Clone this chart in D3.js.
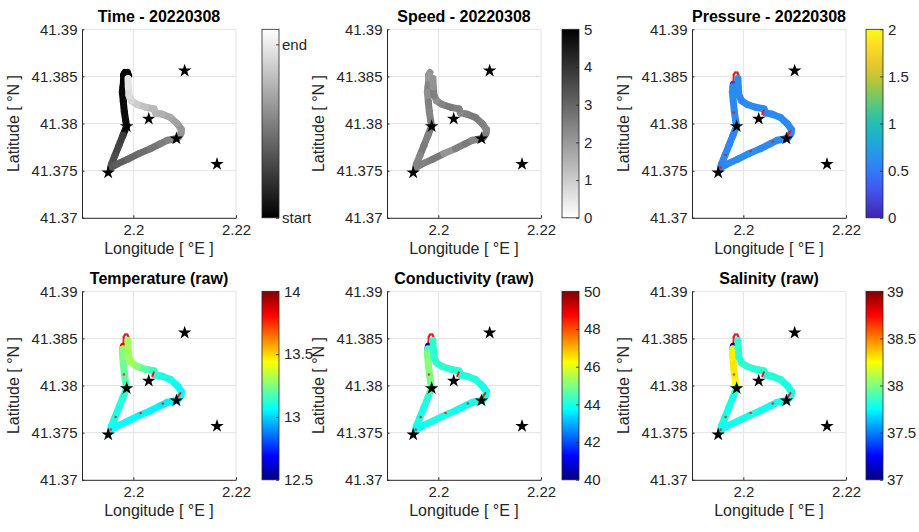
<!DOCTYPE html>
<html>
<head>
<meta charset="utf-8">
<script src="https://cdn.jsdelivr.net/npm/d3@7"></script>
<style>
  html, body { margin: 0; padding: 0; background: #fff; }
  svg { display: block; font-family: "Liberation Sans", Arial, sans-serif; }
</style>
</head>
<body>
<svg id="fig" width="919" height="532"></svg>
<script>
// ---- Glider track, one entry per logged position (lon / lat in degrees) ----
const trackLon = [2.19909, 2.19883, 2.19837, 2.19812, 2.19805, 2.19799, 2.19786, 2.19805, 2.19825, 2.19850,
                  2.19870, 2.19799, 2.19721, 2.19643, 2.19572, 2.19559, 2.19669, 2.19883, 2.20109, 2.20336,
                  2.20530, 2.20660, 2.20789, 2.20873, 2.20925, 2.20938, 2.20854, 2.20724, 2.20563, 2.20433,
                  2.20401, 2.20239, 2.20077, 2.19967, 2.19915, 2.19902, 2.19896];
const trackLat = [41.38510, 41.38542, 41.38542, 41.38517, 41.38418, 41.38390, 41.38336, 41.38230, 41.38124, 41.38035,
                  41.37975, 41.37876, 41.37769, 41.37663, 41.37567, 41.37532, 41.37567, 41.37620, 41.37681, 41.37734,
                  41.37787, 41.37822, 41.37833, 41.37851, 41.37893, 41.37936, 41.38000, 41.38064, 41.38099, 41.38113,
                  41.38156, 41.38173, 41.38202, 41.38241, 41.38301, 41.38390, 41.38478];
// minutes since mission start
const trackTime = [0, 0.3, 0.6, 1, 1.5, 2, 3, 4, 5, 6,
                   8, 24, 27, 30, 33, 35, 37, 40, 43, 46,
                   49, 51, 53, 55, 57, 59, 63, 66, 69, 71,
                   72, 76, 80, 84, 87, 90, 92];
const trackSpeed = [null, null, 2.2, 2.0, 2.3, 2.4, 2.2, 2.5, 2.4, 2.5,
                    2.6, 2.5, 2.6, 2.4, 2.5, 2.4, 2.5, 2.6, 2.1, 2.5,
                    2.6, 2.4, 2.5, 2.6, 2.5, 2.4, 2.5, 2.6, 2.5, 2.3,
                    2.5, 2.6, 2.4, 2.2, 2.5, 2.1, 2.2];
const trackPressure = [null, null, null, null, 0.08, 0.58, 0.60, 0.57, 0.59, 0.60,
                       0.58, 0.56, 0.58, 0.60, 0.57, 0.55, 0.58, 0.60, 0.62, 0.58,
                       0.60, 0.57, 0.59, 0.60, 0.58, 0.56, 0.58, 0.60, 0.59, 0.57,
                       0.60, 0.58, 0.60, 0.57, 0.58, 0.60, 0.59];
const trackTemperature = [null, null, null, null, 13.85, 13.28, 13.25, 13.22, 13.20, 13.18,
                          13.15, 13.12, 13.10, 13.10, 13.08, 13.08, 13.07, 13.06, 13.05, 13.05,
                          13.04, 13.04, 13.05, 13.06, 13.06, 13.06, 13.08, 13.10, 13.10, 13.12,
                          13.15, 13.20, 13.26, 13.30, 13.30, 13.30, 13.32];
const trackConductivity = [null, null, null, null, 40.3, 44.6, 45.0, 45.1, 45.0, 44.9,
                           44.5, 44.1, 44.0, 44.0, 43.9, 43.9, 43.9, 44.0, 44.0, 43.9,
                           43.9, 44.0, 44.0, 44.0, 44.0, 44.0, 44.0, 44.1, 44.1, 44.1,
                           44.2, 44.2, 44.2, 44.2, 44.2, 44.2, 44.2];
const trackSalinity = [null, null, null, null, 37.05, 38.20, 38.28, 38.30, 38.28, 38.25,
                       37.85, 37.80, 37.80, 37.80, 37.78, 37.78, 37.78, 37.80, 37.80, 37.78,
                       37.78, 37.80, 37.80, 37.80, 37.80, 37.80, 37.80, 37.82, 37.82, 37.82,
                       37.84, 37.84, 37.84, 37.84, 37.84, 37.84, 37.84];

// ---- Waypoints ----
const waypointLon = [2.2100, 2.2030, 2.1987, 2.2084, 2.2163, 2.1951];
const waypointLat = [41.3856, 41.3805, 41.3797, 41.3784, 41.3757, 41.3748];

// ---- Flagged samples (drawn in red on the sensor maps) ----
const flagDotLon = [2.19817, 2.19656, 2.20142, 2.20575, 2.19559];
const flagDotLat = [41.38117, 41.37666, 41.37709, 41.37809, 41.37532];
const flagTickLon0 = [2.20369, 2.20854];
const flagTickLat0 = [41.38100, 41.37868];
const flagTickLon1 = [2.20400, 2.20918];
const flagTickLat1 = [41.38140, 41.37921];

// ---- Axes ----
const lonLimits = [2.19, 2.22];
const latLimits = [41.37, 41.39];
const lonTicks = [2.2, 2.22];
const latTicks = [41.37, 41.375, 41.38, 41.385, 41.39];

// ---- Colour bars ----
const timeLimits = [0, 100];
const timeTickLabels = ["start", "end"];
const speedLimits = [0, 5];
const speedTicks = [0, 1, 2, 3, 4, 5];
const pressureLimits = [0, 2];
const pressureTicks = [0, 0.5, 1, 1.5, 2];
const temperatureLimits = [12.5, 14];
const temperatureTicks = [12.5, 13, 13.5, 14];
const conductivityLimits = [40, 50];
const conductivityTicks = [40, 42, 44, 46, 48, 50];
const salinityLimits = [37, 39];
const salinityTicks = [37, 37.5, 38, 38.5, 39];

// ---- Colour maps ----
function jet(t) {
  t = Math.max(0, Math.min(1, t));
  const ch = x => Math.max(0, Math.min(1, 1.5 - Math.abs(4 * t - x)));
  return d3.rgb(255 * ch(3), 255 * ch(2), 255 * ch(1)) + "";
}
const parulaStops = [
  [0.2422, 0.1504, 0.6603], [0.2813, 0.3006, 0.9414], [0.1963, 0.4847, 0.9892],
  [0.1248, 0.6459, 0.8883], [0.0964, 0.7500, 0.7120], [0.3909, 0.8029, 0.4354],
  [0.8203, 0.7498, 0.1535], [0.9892, 0.8136, 0.1885], [0.9769, 0.9839, 0.0805]
].map(c => d3.rgb(c[0] * 255, c[1] * 255, c[2] * 255));
const parula = d3.interpolateRgbBasis(parulaStops);
const grayUp = t => d3.interpolateRgb("#000", "#fff")(t);
const grayDown = t => d3.interpolateRgb("#fff", "#000")(t);

const fmt = d3.format("~g");

const panels = [
  { title: "Time - 20220308", values: trackTime, limits: timeLimits, cmap: grayUp,
    ticks: [trackTime[0], trackTime[trackTime.length - 1]], labels: timeTickLabels, flags: false, pad: 3 },
  { title: "Speed - 20220308", values: trackSpeed, limits: speedLimits, cmap: grayDown,
    ticks: speedTicks, flags: false, pad: 5 },
  { title: "Pressure - 20220308", values: trackPressure, limits: pressureLimits, cmap: parula,
    ticks: pressureTicks, flags: true, pad: 5 },
  { title: "Temperature (raw)", values: trackTemperature, limits: temperatureLimits, cmap: jet,
    ticks: temperatureTicks, flags: true, pad: 5 },
  { title: "Conductivity (raw)", values: trackConductivity, limits: conductivityLimits, cmap: jet,
    ticks: conductivityTicks, flags: true, pad: 5 },
  { title: "Salinity (raw)", values: trackSalinity, limits: salinityLimits, cmap: jet,
    ticks: salinityTicks, flags: true, pad: 4 }
];

// ---- Layout ----
const colLeft = [82, 387, 692];
const cbLeft = [262, 562, 866];
const rowTop = [29.3, 291.3];
const boxW = 154, boxH = 188.5;
const cbW = 17;
const axisColor = "#262626", gridColor = "#e3e3e3";
const flagColor = "#e21b1b";

const svg = d3.select("#fig");
const defs = svg.append("defs");
const star = d3.symbol().type(d3.symbolStar).size(56);

panels.forEach((p, k) => {
  const left = colLeft[k % 3], top = rowTop[Math.floor(k / 3)];
  const x = d3.scaleLinear().domain(lonLimits).range([left, left + boxW]);
  const y = d3.scaleLinear().domain(latLimits).range([top + boxH, top]);
  const color = d3.scaleSequential(p.cmap).domain(p.limits).clamp(true);
  const g = svg.append("g");

  // grid
  g.append("g").selectAll("line").data(lonTicks).join("line")
    .attr("x1", d => x(d)).attr("x2", d => x(d))
    .attr("y1", top).attr("y2", top + boxH)
    .attr("stroke", gridColor).attr("stroke-width", 1);
  g.append("g").selectAll("line").data(latTicks.filter(d => d > latLimits[0])).join("line")
    .attr("x1", left).attr("x2", left + boxW)
    .attr("y1", d => y(d)).attr("y2", d => y(d))
    .attr("stroke", gridColor).attr("stroke-width", 1);

  // axes
  const xa = g.append("g").attr("transform", `translate(0,${top + boxH})`)
    .call(d3.axisBottom(x).tickValues(lonTicks).tickFormat(fmt).tickSizeInner(-2.5).tickSizeOuter(0).tickPadding(6.5));
  const ya = g.append("g").attr("transform", `translate(${left},0)`)
    .call(d3.axisLeft(y).tickValues(latTicks).tickFormat(fmt).tickSizeInner(-2.5).tickSizeOuter(0).tickPadding(4.5));
  [xa, ya].forEach(a => {
    a.select(".domain").attr("stroke", axisColor).attr("stroke-width", 1);
    a.selectAll(".tick line").attr("stroke", axisColor);
    a.selectAll(".tick text").attr("fill", axisColor).attr("font-size", 15)
      .attr("font-family", "Liberation Sans, Arial, sans-serif");
  });

  // axis labels and title
  g.append("text").attr("x", left + boxW / 2).attr("y", top + boxH + 36.5)
    .attr("text-anchor", "middle").attr("font-size", 16).attr("fill", axisColor)
    .text("Longitude [ °E ]");
  g.append("text").attr("transform", `translate(${left - 63.5},${top + boxH / 2}) rotate(-90)`)
    .attr("text-anchor", "middle").attr("font-size", 16).attr("fill", axisColor)
    .text("Latitude [ °N ]");
  g.append("text").attr("x", left + boxW / 2).attr("y", top - 7)
    .attr("text-anchor", "middle").attr("font-size", 16).attr("font-weight", "bold").attr("fill", "#000")
    .text(p.title);

  // red track line where the sensor has no valid sample
  const idx = d3.range(trackLon.length - 1);
  if (p.flags) {
    g.append("g").selectAll("line")
      .data(idx.filter(i => p.values[i] == null || p.values[i + 1] == null)).join("line")
      .attr("x1", i => x(trackLon[i])).attr("y1", i => y(trackLat[i]))
      .attr("x2", i => x(trackLon[i + 1])).attr("y2", i => y(trackLat[i + 1]))
      .attr("stroke", flagColor).attr("stroke-width", 2).attr("stroke-linecap", "round");
  }

  // coloured track
  g.append("g").selectAll("line")
    .data(idx.filter(i => p.values[i] != null && p.values[i + 1] != null)).join("line")
    .attr("x1", i => x(trackLon[i])).attr("y1", i => y(trackLat[i]))
    .attr("x2", i => x(trackLon[i + 1])).attr("y2", i => y(trackLat[i + 1]))
    .attr("stroke", i => color(p.values[i])).attr("stroke-width", 7).attr("stroke-linecap", "round");

  if (p.flags) {
    g.append("g").selectAll("line").data(d3.range(flagTickLon0.length)).join("line")
      .attr("x1", i => x(flagTickLon0[i])).attr("y1", i => y(flagTickLat0[i]))
      .attr("x2", i => x(flagTickLon1[i])).attr("y2", i => y(flagTickLat1[i]))
      .attr("stroke", flagColor).attr("stroke-width", 2).attr("stroke-linecap", "round");
    g.append("g").selectAll("circle").data(d3.range(flagDotLon.length)).join("circle")
      .attr("cx", i => x(flagDotLon[i])).attr("cy", i => y(flagDotLat[i])).attr("r", 1.3)
      .attr("fill", flagColor).attr("opacity", 0.8);
  }

  // waypoints
  g.append("g").selectAll("path").data(d3.range(waypointLon.length)).join("path")
    .attr("transform", i => `translate(${x(waypointLon[i])},${y(waypointLat[i])})`)
    .attr("d", star).attr("fill", "#000");

  // colour bar
  const cbX = cbLeft[k % 3];
  const gid = "cb" + k;
  const grad = defs.append("linearGradient").attr("id", gid)
    .attr("x1", 0).attr("y1", 1).attr("x2", 0).attr("y2", 0);
  d3.range(0, 1.0001, 1 / 48).forEach(t => {
    grad.append("stop").attr("offset", t).attr("stop-color", p.cmap(t));
  });
  g.append("rect").attr("x", cbX).attr("y", top).attr("width", cbW).attr("height", boxH)
    .attr("fill", `url(#${gid})`).attr("stroke", axisColor).attr("stroke-width", 0.8);
  const cy = d3.scaleLinear().domain(p.limits).range([top + boxH, top]);
  const cbAxis = d3.axisRight(cy).tickValues(p.ticks).tickSizeInner(-3).tickSizeOuter(0).tickPadding(p.pad)
    .tickFormat((d, i) => p.labels ? p.labels[i] : fmt(d));
  const ca = g.append("g").attr("transform", `translate(${cbX + cbW},0)`).call(cbAxis);
  ca.select(".domain").remove();
  ca.selectAll(".tick line").attr("stroke", axisColor).attr("stroke-width", 0.8);
  ca.selectAll(".tick text").attr("fill", axisColor).attr("font-size", 15)
    .attr("font-family", "Liberation Sans, Arial, sans-serif");
});
</script>
</body>
</html>
